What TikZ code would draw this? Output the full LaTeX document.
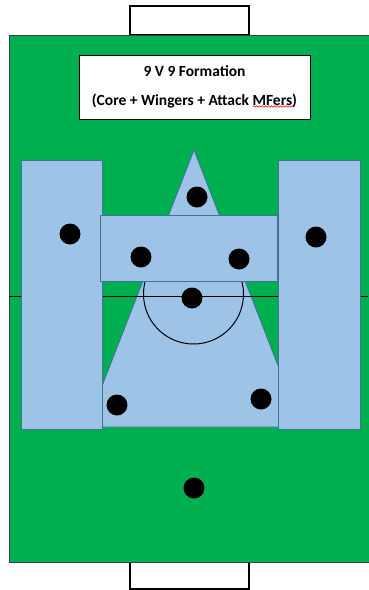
\documentclass[tikz,border=0pt]{standalone}
\usepackage{fontspec}
\setmainfont{Carlito}
\usetikzlibrary{decorations.pathmorphing}

\definecolor{pitchgreen}{RGB}{0,176,80}
\definecolor{zonefill}{RGB}{157,195,230}
\definecolor{zoneline}{RGB}{65,113,156}

\begin{document}
\begin{tikzpicture}[x=1pt,y=-1pt,
  zone/.style={fill=zonefill,draw=zoneline,line width=0.9pt},
  player/.style={circle,fill=black,inner sep=0pt,minimum size=21pt},
  goal/.style={draw=black,fill=white,line width=1.4pt}]
  \useasboundingbox (0,0) rectangle (368,590);
  % pitch and goals
  \draw[goal] (130,6) rectangle (249,35);
  \draw[goal] (130,562) rectangle (249,589);
  \fill[pitchgreen,draw=black!75,line width=0.8pt] (9,35) rectangle (370,562);
  % core triangle, with the halfway line and centre circle over it
  \draw[zone] (194,150) -- (302,427) -- (86,427) -- cycle;
  \draw[black,line width=0.8pt] (9,296) -- (368,296);
  \draw[black,line width=1pt] (193.5,294) circle (50);
  % wingers and attacking midfield bands
  \draw[zone] (21,160) rectangle (102,429);
  \draw[zone] (278,160) rectangle (360,429);
  \draw[zone] (100,215) rectangle (277,281);
  % title
  \node[draw=black,fill=white,line width=0.8pt,minimum width=231pt,minimum height=64pt,
        align=center,font=\bfseries\fontsize{15.5}{30}\selectfont] (title) at (194.5,87)
        {9 V 9 Formation\\[-1pt](Core + Wingers + Attack MFers)};
  \draw[red,line width=0.5pt,decorate,decoration={snake,segment length=3pt,amplitude=0.8pt}]
        (title.center) ++(58,19.5) -- ++(41,0);
  % players
  \node[player] (striker) at (197,197) {};
  \node[player] (lwing) at (70,234) {};
  \node[player] (rwing) at (316,237) {};
  \node[player] (lam) at (141,257) {};
  \node[player] (ram) at (239,259) {};
  \node[player] (cm) at (192,298) {};
  \node[player] (lcb) at (117,405) {};
  \node[player] (rcb) at (261,399) {};
  \node[player] (keeper) at (194,488) {};
\end{tikzpicture}
\end{document}
